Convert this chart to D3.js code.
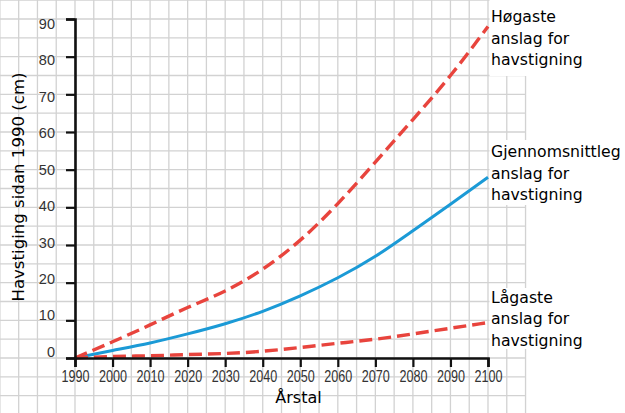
<!DOCTYPE html>
<html>
<head>
<meta charset="utf-8">
<script src="https://cdn.jsdelivr.net/npm/d3@7/dist/d3.min.js"></script>
<style>
  html, body { margin: 0; padding: 0; background: #fff; }
  svg { display: block; }
</style>
</head>
<body>
<script>
// ---- data ----
const years = [1990, 2000, 2010, 2020, 2030, 2040, 2050, 2060, 2070, 2080, 2090, 2100];
const highEstimate = [0, 4.3, 8.8, 13.4, 17.8, 23.6, 31.3, 41, 52, 63.3, 75, 88];
const meanEstimate = [0, 2, 4, 6.4, 9.1, 12.4, 16.5, 21.3, 27, 33.8, 40.8, 48];
const lowEstimate  = [0, 0.4, 0.6, 0.9, 1.2, 1.8, 2.8, 3.9, 5.0, 6.4, 7.9, 9.4];
const xTicks = [1990, 2000, 2010, 2020, 2030, 2040, 2050, 2060, 2070, 2080, 2090, 2100];
const yTicks = [0, 10, 20, 30, 40, 50, 60, 70, 80, 90];
const highLabel = ["Høgaste", "anslag for", "havstigning"];
const meanLabel = ["Gjennomsnittleg", "anslag for", "havstigning"];
const lowLabel  = ["Lågaste", "anslag for", "havstigning"];
const xTitle = "Årstal";
const yTitle = "Havstiging sidan 1990 (cm)";

// ---- layout ----
const W = 625, H = 413;
const x = d3.scaleLinear().domain([1990, 2100]).range([75, 488]);
const y = d3.scaleLinear().domain([0, 90]).range([358, 19]);
const yLabelPos = d3.scaleLinear().domain([0, 90]).range([351.7, 23.8]);

const svg = d3.select("body").append("svg").attr("width", W).attr("height", H);
svg.append("rect").attr("width", W).attr("height", H).attr("fill", "#fff");

// background grid (every 5 years / 5 cm)
const gridYears = d3.range(1970, 2111, 5);
const gridVals = d3.range(-15, 96, 5);
const grid = svg.append("g").attr("stroke", "#d2d2d2").attr("stroke-width", 1.3);
grid.selectAll("line.v").data(gridYears).join("line")
  .attr("x1", d => x(d)).attr("x2", d => x(d))
  .attr("y1", 0).attr("y2", H);
grid.selectAll("line.h").data(gridVals).join("line")
  .attr("x1", x(1970)).attr("x2", x(2110))
  .attr("y1", d => y(d)).attr("y2", d => y(d));

// label backgrounds
const labelBoxes = [[0, 76], [140, 205], [288, 349]];
svg.selectAll("rect.lb").data(labelBoxes).join("rect")
  .attr("x", 489.5).attr("y", d => d[0]).attr("width", W - 489.5).attr("height", d => d[1] - d[0])
  .attr("fill", "#fff");

// lines
const line = d3.line().x(d => x(d[0])).y(d => y(d[1])).curve(d3.curveNatural);
const pairs = arr => years.map((yr, i) => [yr, arr[i]]);

svg.append("path").datum(pairs(meanEstimate))
  .attr("d", line).attr("fill", "none")
  .attr("stroke", "#1b9ad6").attr("stroke-width", 3);
[highEstimate, lowEstimate].forEach(arr => {
  svg.append("path").datum(pairs(arr))
    .attr("d", line).attr("fill", "none")
    .attr("stroke", "#e8443d").attr("stroke-width", 3.4)
    .attr("stroke-dasharray", "13,6");
});

// axes
const yAxis = svg.append("g").attr("transform", `translate(${x(1990)},0)`)
  .call(d3.axisLeft(y).tickValues(yTicks).tickSize(9).tickFormat(""));
yAxis.select(".domain").attr("stroke", "#111").attr("stroke-width", 2.6);
yAxis.selectAll(".tick line").attr("stroke", "#111").attr("stroke-width", 2.2);
svg.append("g").selectAll("text").data(yTicks).join("text")
  .attr("x", 55).attr("y", d => yLabelPos(d)).attr("dy", "0.36em")
  .attr("text-anchor", "end")
  .attr("font-family", "'Liberation Sans', Arial, sans-serif")
  .attr("font-size", 14.5).attr("fill", "#333")
  .text(d => d);

const xAxis = svg.append("g").attr("transform", `translate(0,${y(0)})`)
  .call(d3.axisBottom(x).tickValues(xTicks).tickSize(9).tickPadding(3.5).tickFormat(d3.format("d")));
xAxis.select(".domain").attr("stroke", "#111").attr("stroke-width", 2.6);
xAxis.selectAll(".tick line").attr("stroke", "#111").attr("stroke-width", 2.2);
xAxis.selectAll(".tick text")
  .attr("font-family", "'Liberation Sans', Arial, sans-serif")
  .attr("font-size", 16).attr("fill", "#333")
  .attr("textLength", 28).attr("lengthAdjust", "spacingAndGlyphs");

// titles
svg.append("text").attr("x", 298.5).attr("y", 403)
  .attr("text-anchor", "middle")
  .attr("font-family", "'DejaVu Sans', Verdana, sans-serif").attr("font-size", 16)
  .attr("fill", "#000").text(xTitle);
svg.append("text").attr("transform", "translate(24,187) rotate(-90)")
  .attr("text-anchor", "middle")
  .attr("font-family", "'DejaVu Sans', Verdana, sans-serif").attr("font-size", 16.6)
  .attr("fill", "#000").text(yTitle);

// series labels
const labels = [[highLabel, 22], [meanLabel, 157], [lowLabel, 302.7]];
labels.forEach(([lines, top]) => {
  const t = svg.append("text")
    .attr("font-family", "'DejaVu Sans', Verdana, sans-serif").attr("font-size", 15.7)
    .attr("fill", "#000");
  lines.forEach((s, i) => {
    t.append("tspan").attr("x", 491).attr("y", top + i * 21.6).text(s);
  });
});
</script>
</body>
</html>
